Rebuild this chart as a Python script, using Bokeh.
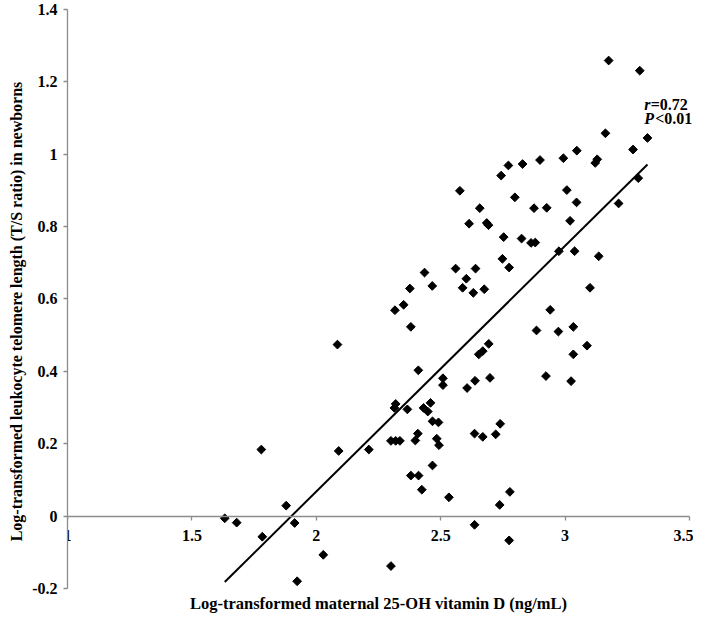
import numpy as np
from bokeh.plotting import figure
from bokeh.models import Range1d, FixedTicker, NumeralTickFormatter, Title
from bokeh.core.properties import value
from bokeh.embed import file_html
from bokeh.resources import INLINE

# Log-transformed maternal 25-OH vitamin D (x) and newborn LTL (y)
vitd_x = [3.175, 3.300, 3.162, 3.331, 3.273, 3.047, 2.993, 2.899, 2.829, 2.772,
          2.743, 3.129, 3.121, 3.294, 2.577, 3.007, 2.798, 3.046, 3.215, 2.657,
          2.875, 2.926, 2.614, 2.685, 2.692, 3.020, 2.753, 2.825, 2.863, 2.880,
          2.975, 3.038, 3.135, 2.748, 2.775, 2.435, 2.560, 2.640, 2.603, 2.466,
          2.376, 2.588, 2.631, 2.675, 3.100, 2.351, 2.316, 2.940, 2.380, 2.885,
          2.973, 3.033, 3.088, 3.033, 2.085, 2.693, 2.669, 2.653, 2.923, 3.024,
          2.410, 2.509, 2.509, 2.638, 2.698, 2.606, 2.319, 2.314, 2.366, 2.459,
          2.431, 2.448, 2.467, 2.491, 2.739, 1.779, 2.090, 2.211, 2.300, 2.319,
          2.336, 2.408, 2.398, 2.484, 2.493, 2.636, 2.669, 2.721, 2.467, 2.380,
          2.411, 2.424, 2.533, 2.737, 2.778, 2.636, 2.775, 2.300, 1.879, 1.632,
          1.680, 1.913, 1.783, 2.028, 1.923]
ltl_y = [1.259, 1.231, 1.058, 1.045, 1.013, 1.010, 0.989, 0.984, 0.973, 0.969,
         0.941, 0.986, 0.976, 0.934, 0.899, 0.901, 0.881, 0.867, 0.864, 0.851,
         0.851, 0.852, 0.808, 0.810, 0.804, 0.816, 0.771, 0.767, 0.755, 0.756,
         0.732, 0.732, 0.718, 0.711, 0.687, 0.673, 0.684, 0.684, 0.656, 0.636,
         0.629, 0.631, 0.617, 0.627, 0.631, 0.584, 0.569, 0.570, 0.523, 0.513,
         0.510, 0.523, 0.471, 0.447, 0.474, 0.476, 0.456, 0.447, 0.387, 0.373,
         0.403, 0.381, 0.362, 0.374, 0.382, 0.354, 0.310, 0.299, 0.295, 0.313,
         0.299, 0.289, 0.262, 0.259, 0.255, 0.184, 0.180, 0.184, 0.208, 0.208,
         0.208, 0.228, 0.209, 0.214, 0.196, 0.228, 0.219, 0.226, 0.140, 0.112,
         0.112, 0.073, 0.052, 0.031, 0.067, -0.024, -0.067, -0.138, 0.029, -0.006,
         -0.018, -0.019, -0.057, -0.107, -0.180]

fit_slope = 0.679
fit_intercept = -1.290

x_ticks = [1.0, 1.5, 2.0, 2.5, 3.0, 3.5]
y_ticks = [-0.2, 0.0, 0.2, 0.4, 0.6, 0.8, 1.0, 1.2, 1.4]

x_title = "Log-transformed maternal 25-OH vitamin D (ng/mL)"
y_title = "Log-transformed leukocyte telomere length (T/S ratio) in newborns"
stat_r = "0.72"
stat_p = "0.01"

FONT = "Liberation Serif"
AXIS_GRAY = "#8c8c8c"
FS = "16px"

X_MIN, X_MAX = 1.0, 3.5
Y_MIN, Y_MAX = -0.2, 1.4

p = figure(width=693, height=613,
           x_range=Range1d(X_MIN, 3.516), y_range=Range1d(-0.2691, Y_MAX),
           output_backend="svg", toolbar_location=None,
           min_border_top=9, min_border_right=0, min_border_bottom=0,
           min_border_left=0)
p.grid.visible = False
p.outline_line_color = None
p.background_fill_color = "white"


def style_ticks(ax):
    ax.axis_line_color = AXIS_GRAY
    ax.axis_line_width = 1.3
    ax.major_tick_line_color = AXIS_GRAY
    ax.major_tick_line_width = 1.3
    ax.major_tick_out = 4
    ax.major_tick_in = 0
    ax.minor_tick_line_color = None
    ax.formatter = NumeralTickFormatter(format="0.[0]")
    ax.major_label_text_font = FONT
    ax.major_label_text_font_style = "bold"
    ax.major_label_text_font_size = FS
    ax.major_label_text_color = "black"


# x axis crossing at y = 0
xa = p.xaxis[0]
xa.fixed_location = 0
xa.bounds = (X_MIN, X_MAX)
xa.ticker = FixedTicker(ticks=x_ticks)
style_ticks(xa)
xa.major_label_standoff = 10

ya = p.yaxis[0]
ya.bounds = (Y_MIN, Y_MAX)
ya.ticker = FixedTicker(ticks=y_ticks)
style_ticks(ya)
ya.major_label_standoff = 6

# y-axis title (vertical, left of the tick labels)
p.add_layout(Title(text=y_title, align="center", offset=19, standoff=10,
                   text_font=FONT, text_font_style="bold", text_font_size="16px",
                   text_color="black"), "left")

# x-axis title under the plot
p.text([(X_MIN + X_MAX) / 2], [-0.2414], text=[x_title], text_font=value(FONT),
       text_font_style="bold", text_font_size="16.5px", text_align="center",
       text_baseline="alphabetic", text_color="black")

# regression line
fx = np.array([min(vitd_x), max(vitd_x)])
p.line(fx, fit_slope * fx + fit_intercept, line_color="black", line_width=2)

# data points (diamonds)
p.scatter(vitd_x, ltl_y, marker="square", size=6.2, angle=np.pi / 4,
          fill_color="black", line_color="black")

# statistics annotation
ax_pos = 3.318
p.text([ax_pos], [1.137], text=["r"], text_font=value(FONT), text_font_style="bold italic",
       text_font_size=FS, text_baseline="alphabetic", text_color="black")
p.text([ax_pos], [1.137], text=["=" + stat_r], x_offset=6.5, text_font=value(FONT),
       text_font_style="bold", text_font_size=FS, text_baseline="alphabetic",
       text_color="black")
p.text([ax_pos], [1.099], text=["P"], text_font=value(FONT), text_font_style="bold italic",
       text_font_size=FS, text_baseline="alphabetic", text_color="black")
p.text([ax_pos], [1.099], text=["<" + stat_p], x_offset=11, text_font=value(FONT),
       text_font_style="bold", text_font_size=FS, text_baseline="alphabetic",
       text_color="black")

open("out.html", "w").write(file_html(p, INLINE))
